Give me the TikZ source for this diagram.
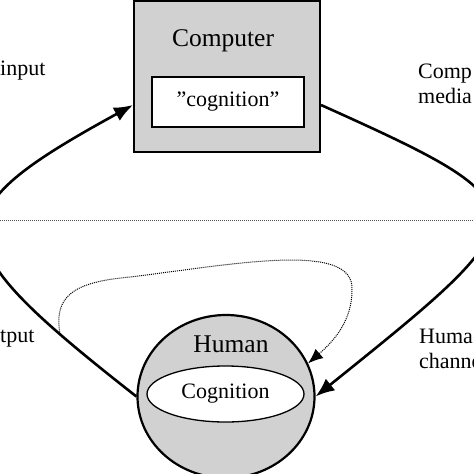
\documentclass[tikz,border=0pt]{standalone}
\usepackage{fontspec}
\setmainfont{Liberation Serif}
\usetikzlibrary{arrows.meta,shapes.geometric}
\definecolor{stipple}{gray}{0.82}

\begin{document}
\begin{tikzpicture}[x=1pt,y=1pt,
  bigfont/.style={font=\fontsize{25.5}{30}\selectfont},
  smallfont/.style={font=\fontsize{22}{26}\selectfont},
  sidelabel/.style={smallfont,anchor=base west,inner sep=0pt},
  flow/.style={line width=2.6pt,-{Latex[length=19pt,width=15pt]}},
  feedback/.style={line width=1pt,dash pattern=on 1pt off 1pt,-{Latex[length=15pt,width=12pt]}},
  sepline/.style={line width=0.9pt,dash pattern=on 0.9pt off 1.1pt,black!70}]
  \useasboundingbox (0,0) rectangle (474,-474);
  % computer box on top
  \node[draw,line width=2pt,fill=stipple,minimum width=186pt,minimum height=151.5pt,inner sep=0pt] (comp) at (227,-76.25) {};
  \node[bigfont,anchor=base] (compname) at (223,-46) {Computer};
  \node[draw,line width=1.3pt,fill=white,minimum width=152pt,minimum height=50pt,smallfont] (compcog) at (228,-102) {”cognition”};
  % human below
  \node[ellipse,draw,line width=2.2pt,fill=stipple,minimum width=177pt,minimum height=163pt,inner sep=0pt] (human) at (226,-396.5) {};
  \node[bigfont,anchor=base] (humanname) at (231,-352) {Human};
  \node[ellipse,draw,line width=1.3pt,fill=white,minimum width=157pt,minimum height=56pt,inner sep=0pt,smallfont] (humancog) at (225.5,-394) {Cognition};
  % side labels, cut by the frame
  \node[sidelabel] (inlab) at (0,-75) {input};
  \node[sidelabel] (medlabA) at (418,-78) {Comp};
  \node[sidelabel] (medlabB) at (418,-103) {media};
  \node[sidelabel] (outlab) at (0,-342) {tput};
  \node[sidelabel] (chanlabA) at (419,-343) {Huma};
  \node[sidelabel] (chanlabB) at (419,-368) {channe};
  % dotted separator
  \coordinate (sepL) at (0,-220);
  \coordinate (sepR) at (474,-220);
  \draw[sepline] (sepL) -- (sepR);
  % the two big loops
  \draw[flow] (human.west) .. controls (-62.5,-240.5) and (-66,-214) .. (comp.197) coordinate[pos=0.15] (dotA);
  \draw[flow] (comp.-17) .. controls (550,-208) and (545,-212) .. (human.east);
  % feedback path
  \draw[feedback] (dotA) .. controls (53,-295) and (75,-282) .. (130,-277)
     .. controls (230,-265) and (355,-240) .. (352,-290)
     .. controls (352,-320) and (335,-340) .. (human.22);
\end{tikzpicture}
\end{document}
